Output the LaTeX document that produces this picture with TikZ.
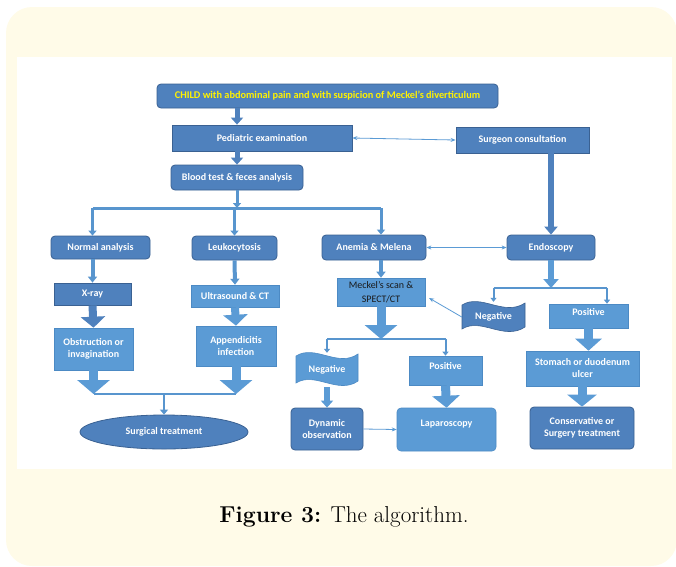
\documentclass[tikz,border=0pt]{standalone}
\usepackage{fontspec}
\newfontfamily\boxfont{Carlito}
\usetikzlibrary{arrows.meta,calc,positioning,shapes.geometric}
\definecolor{darkblue}{HTML}{4F81BD}
\definecolor{darkedge}{HTML}{3A6192}
\definecolor{lightblue}{HTML}{5B9BD5}
\definecolor{lightedge}{HTML}{4C8AC4}
\definecolor{cream}{HTML}{FFFBE8}
\definecolor{meckeltext}{HTML}{1A1A1A}

\begin{document}
\begin{tikzpicture}[x=1pt,y=-1pt,
    font=\boxfont\bfseries\fontsize{10}{12}\selectfont,
    darkbox/.style={draw=darkedge, fill=darkblue, text=white, line width=0.8pt, inner sep=1pt, align=center},
    lightbox/.style={draw=lightedge, fill=lightblue, text=white, line width=0.6pt, inner sep=1pt, align=center},
    roundbox/.style={rounded corners=4pt},
    bannertext/.style={text=white, inner sep=0pt, align=center},
    bigarr/.style={draw=lightblue, line width=9pt, -{Triangle[width=32pt,length=14pt]}},
    midarr/.style={draw=lightblue, line width=8pt, -{Triangle[width=24pt,length=11pt]}},
    smallarr/.style={draw=darkblue, line width=5pt, -{Triangle[width=12pt,length=7pt]}},
    branch/.style={draw=lightblue!90!darkedge, line width=3pt, -{Triangle[width=8pt,length=5pt]}},
    bar/.style={draw=lightblue!90!darkedge, line width=3pt},
    link/.style={draw=lightblue, line width=0.8pt, -{Stealth[length=5pt,width=4pt]}},
    twolink/.style={draw=lightblue, line width=0.8pt, {Stealth[length=5pt,width=4pt]}-{Stealth[length=5pt,width=4pt]}}]

    \useasboundingbox (0,0) rectangle (676,566);
    \fill[cream, rounded corners=26pt] (6,7) rectangle (677,566);
    \fill[white] (17,57) rectangle (672,469);

    % first row
    \node[darkbox, roundbox, minimum width=341pt, minimum height=24pt, text=yellow, font=\boxfont\bfseries\fontsize{10.3}{12}\selectfont] (child) at (327.5,96) {CHILD with abdominal pain and with suspicion of Meckel’s diverticulum};
    \node[darkbox, minimum width=180pt, minimum height=26pt] (pedi) at (262,138) {Pediatric examination};
    \node[darkbox, minimum width=133pt, minimum height=26pt] (surg) at (522.5,140) {Surgeon consultation};
    \node[darkbox, roundbox, minimum width=132pt, minimum height=25pt] (blood) at (237,177.5) {Blood test \& feces analysis};

    % results
    \node[darkbox, roundbox, minimum width=99pt, minimum height=23pt] (normal) at (100.5,247.5) {Normal analysis};
    \node[darkbox, roundbox, minimum width=85pt, minimum height=24pt] (leuko) at (234.5,248) {Leukocytosis};
    \node[darkbox, roundbox, minimum width=104pt, minimum height=25pt] (anemia) at (374,247.5) {Anemia \& Melena};
    \node[darkbox, roundbox, minimum width=88pt, minimum height=25pt] (endo) at (551,247.5) {Endoscopy};

    % left branches
    \node[darkbox, minimum width=77pt, minimum height=22pt] (xray) at (92.5,294) {X-ray};
    \node[lightbox, minimum width=79pt, minimum height=42pt] (obstr) at (93.5,349) {Obstruction or\\invagination};
    \node[lightbox, minimum width=88pt, minimum height=22pt] (ultra) at (235,296) {Ultrasound \& CT};
    \node[lightbox, minimum width=80pt, minimum height=40pt] (appen) at (236,346) {Appendicitis\\infection};
    \node[darkbox, ellipse, minimum width=168pt, minimum height=34pt] (surgical) at (164,432) {Surgical treatment};

    % middle branch
    \node[lightbox, minimum width=88pt, minimum height=28pt, text=meckeltext, font=\boxfont\fontsize{10}{14}\selectfont] (meckel) at (381,292) {Meckel’s scan \&\\SPECT/CT};
    \fill[lightblue, draw=lightedge, line width=0.6pt] (296,356) .. controls (315,344) and (338,368) .. (358,354)
        -- (358,381) .. controls (338,395) and (315,371) .. (296,383) -- cycle;
    \node[bannertext, minimum width=62pt, minimum height=34pt] (negL) at (327,370) {Negative};
    \node[lightbox, minimum width=73pt, minimum height=29pt, text height=7pt, text depth=10pt] (posL) at (445.5,370.5) {Positive};
    \node[darkbox, roundbox, minimum width=72pt, minimum height=42pt] (dyn) at (327,429) {Dynamic\\observation};
    \node[lightbox, roundbox, minimum width=99pt, minimum height=43pt, text height=7pt, text depth=13pt] (lapa) at (446.5,429.5) {Laparoscopy};

    % right branch
    \fill[darkblue, draw=darkedge, line width=0.6pt] (462,305) .. controls (481,293) and (504,317) .. (525,303)
        -- (525,327) .. controls (504,341) and (481,317) .. (462,329) -- cycle;
    \node[bannertext, minimum width=63pt, minimum height=30pt] (negR) at (493.5,317) {Negative};
    \node[lightbox, minimum width=79pt, minimum height=24pt, text height=7pt, text depth=8pt] (posR) at (588.5,316) {Positive};
    \node[lightbox, minimum width=113pt, minimum height=35pt] (stomach) at (582.5,368.5) {Stomach or duodenum\\ulcer};
    \node[darkbox, roundbox, minimum width=104pt, minimum height=42pt] (conserv) at (582,428) {Conservative or\\Surgery treatment};

    % splits
    \coordinate (split1) at (237,208);
    \coordinate (split2) at (381,339);
    \coordinate (split3) at (551,288);
    \coordinate (split3r) at (607,288);
    \coordinate (join1) at (164,394);

    % top arrows
    \draw[smallarr] (child.south -| blood) -- (blood |- pedi.north);
    \draw[smallarr] (blood |- pedi.south) -- (blood.north);
    \draw[twolink] (pedi.east) -- (surg.west);
    \draw[smallarr, line width=6pt, -{Triangle[width=13pt,length=8pt]}] (endo |- surg.south) -- (endo.north);

    % blood test split
    \draw[branch] (blood.south) -- (split1);
    \draw[bar] (xray |- split1) -- (meckel |- split1);
    \draw[branch] (xray |- split1) -- (xray |- normal.north);
    \draw[branch] (leuko |- split1) -- (leuko.north);
    \draw[branch] (meckel |- split1) -- (meckel |- anemia.north);
    \draw[twolink] (anemia.east) -- (endo.west);

    % left side
    \draw[branch, line width=4pt, -{Triangle[width=9pt,length=6pt]}] (xray |- normal.south) -- (xray.north);
    \draw[midarr, draw=darkblue] (xray.south) -- (obstr |- obstr.north);
    \draw[branch, line width=4pt, -{Triangle[width=9pt,length=6pt]}] (leuko.south) -- (ultra.north);
    \draw[midarr] (ultra.south) -- (appen.north);
    \draw[bar, line width=2pt] (obstr |- join1) -- (appen |- join1);
    \draw[bigarr] (obstr.south) -- (obstr |- join1);
    \draw[bigarr] (appen.south) -- (appen |- join1);
    \draw[branch, line width=2.5pt] (join1) -- (surgical.north);

    % middle
    \draw[branch, line width=4pt, -{Triangle[width=9pt,length=6pt]}] (meckel |- anemia.south) -- (meckel.north);
    \draw[bigarr] (meckel.south) -- (split2);
    \draw[bar, line width=2pt] (negL |- split2) -- (posL |- split2);
    \draw[branch, line width=2pt, -{Triangle[width=6pt,length=4pt]}] (negL |- split2) -- (negL.north);
    \draw[branch, line width=2pt, -{Triangle[width=6pt,length=4pt]}] (posL |- split2) -- (posL.north);
    \draw[smallarr, draw=lightblue, line width=6pt] (negL.south) -- (dyn.north);
    \draw[midarr, line width=9pt, -{Triangle[width=27pt,length=12pt]}] (posL.south) -- (lapa.north);
    \draw[link] (dyn.east) -- (lapa.west);

    % right
    \draw[smallarr, draw=lightblue, line width=6pt, -{Triangle[width=15pt,length=9pt]}] (endo.south) -- (split3);
    \draw[bar, line width=2pt] (negR |- split3) -- (split3r);
    \draw[branch, line width=2pt, -{Triangle[width=6pt,length=4pt]}] (negR |- split3) -- (negR.north);
    \draw[branch, line width=2pt, -{Triangle[width=6pt,length=4pt]}] (split3r) -- (split3r |- posR.north);
    \draw[link, shorten >=2pt] (negR.west) -- ($(meckel.east)+(2,5)$);
    \draw[midarr, line width=9pt, -{Triangle[width=26pt,length=12pt]}] (posR.south) -- (posR |- stomach.north);
    \draw[midarr, line width=9pt, -{Triangle[width=29pt,length=12pt]}] (conserv |- stomach.south) -- (conserv.north);

    % caption
    \node[font=\rmfamily\mdseries\fontsize{23}{27}\selectfont, inner sep=0pt] (caption) at (344,517) {\textbf{Figure 3:} The algorithm.};
\end{tikzpicture}
\end{document}
